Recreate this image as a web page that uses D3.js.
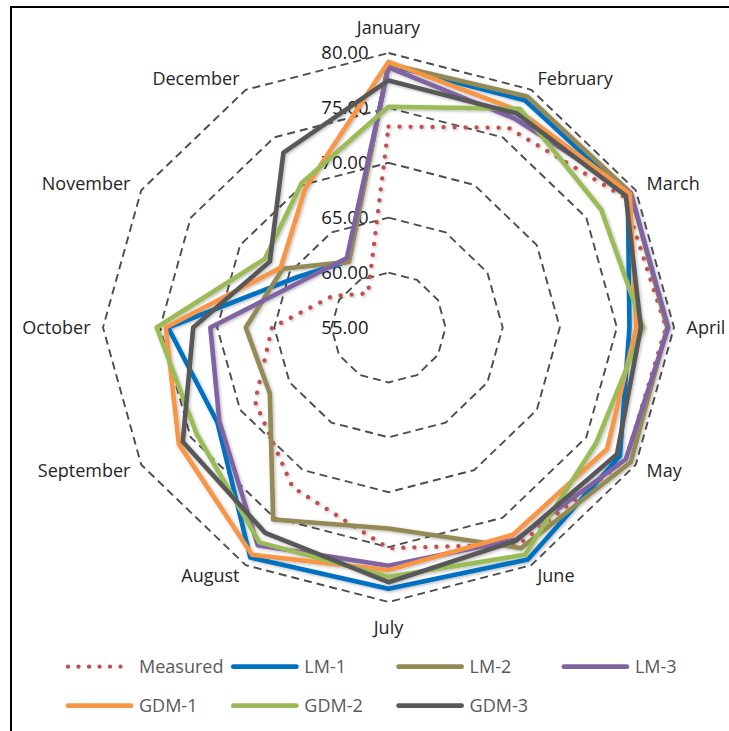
<!DOCTYPE html>
<html>
<head>
<meta charset="utf-8">
<script src="https://cdn.jsdelivr.net/npm/d3@7"></script>
<style>
  html, body { margin: 0; padding: 0; background: #fff; }
  svg { display: block; font-family: "Open Sans", "Segoe UI", sans-serif; }
</style>
</head>
<body>
<svg id="chart" width="729" height="731"></svg>
<script>
// Monthly radar comparison of measured values against six model runs
const months = ["January", "February", "March", "April", "May", "June",
                "July", "August", "September", "October", "November", "December"];

const measured = [73.3, 76.0, 78.8, 79.3, 79.0, 77.8, 75.1, 71.8, 68.5, 65.2, 60.7, 58.6];
const lm1      = [78.9, 78.9, 79.2, 76.1, 78.4, 79.4, 78.8, 79.2, 72.3, 74.3, 64.2, 62.0];
const lm2      = [79.0, 79.3, 79.5, 79.4, 79.5, 78.2, 73.3, 75.2, 67.0, 67.5, 65.7, 61.9];
const lm3      = [78.7, 77.0, 79.5, 79.5, 79.0, 77.3, 76.7, 77.9, 72.1, 70.6, 63.6, 62.3];
const gdm1     = [79.2, 77.8, 79.4, 76.7, 77.1, 76.8, 77.1, 78.9, 76.2, 74.5, 65.9, 69.6];
const gdm2     = [75.1, 78.0, 76.5, 77.3, 76.0, 78.9, 77.7, 77.6, 74.4, 75.3, 67.5, 70.2];
const gdm3     = [77.5, 77.5, 79.0, 77.1, 78.1, 77.4, 78.2, 76.6, 75.8, 72.1, 67.0, 73.4];

const seriesNames = ["Measured", "LM-1", "LM-2", "LM-3", "GDM-1", "GDM-2", "GDM-3"];
const tickValues = [55, 60, 65, 70, 75, 80];

const series = [
  { name: seriesNames[0], values: measured, color: "#C0504D", dotted: true },
  { name: seriesNames[1], values: lm1,      color: "#0070C0" },
  { name: seriesNames[2], values: lm2,      color: "#948A54" },
  { name: seriesNames[3], values: lm3,      color: "#8064A2" },
  { name: seriesNames[4], values: gdm1,     color: "#F79646" },
  { name: seriesNames[5], values: gdm2,     color: "#9BBB59" },
  { name: seriesNames[6], values: gdm3,     color: "#595959" }
];

const svg = d3.select("#chart");

// frame of the chart area
svg.append("rect")
  .attr("x", 11).attr("y", 7).attr("width", 900).attr("height", 900)
  .attr("fill", "none").attr("stroke", "#000").attr("stroke-width", 2);

// soft shadow under the series lines
const defs = svg.append("defs");
const shadow = defs.append("filter").attr("id", "shadow")
  .attr("x", "-10%").attr("y", "-10%").attr("width", "120%").attr("height", "120%");
shadow.append("feDropShadow")
  .attr("dx", 1.2).attr("dy", 1.2).attr("stdDeviation", 1.4)
  .attr("flood-color", "#000").attr("flood-opacity", 0.28);

const cx = 388.5, cy = 327.5;
const R = 274.5;          // vertical radius of the outer ring
const sx = 285.5 / R;     // plot area is slightly wider than tall

const r = d3.scaleLinear().domain([55, 80]).range([0, R]);
const angle = d3.scaleLinear().domain([0, months.length]).range([0, 2 * Math.PI]);

const px = (i, v) => cx + Math.sin(angle(i)) * r(v) * sx;
const py = (i, v) => cy - Math.cos(angle(i)) * r(v);

const ring = d3.line()
  .x(d => px(d.i, d.v))
  .y(d => py(d.i, d.v))
  .curve(d3.curveLinearClosed);

// dashed grid rings
const g = svg.append("g");
g.selectAll("path.grid")
  .data(tickValues.filter(t => t > r.domain()[0]))
  .join("path")
  .attr("class", "grid")
  .attr("d", t => ring(months.map((m, i) => ({ i, v: t }))))
  .attr("fill", "none")
  .attr("stroke", "#4d4d4d")
  .attr("stroke-width", 1.9)
  .attr("stroke-dasharray", "8 5");

// value labels along the first spoke
g.selectAll("text.tick")
  .data(tickValues)
  .join("text")
  .attr("class", "tick")
  .attr("x", cx - 20)
  .attr("y", t => cy - r(t))
  .attr("dy", "0.35em")
  .attr("text-anchor", "end")
  .attr("font-size", 18.5)
  .attr("fill", "#1a1a1a")
  .text(d3.format(".2f"));

// month labels outside the outer ring
const outer = r.domain()[1];
g.selectAll("text.month")
  .data(months)
  .join("text")
  .attr("class", "month")
  .each(function (m, i) {
    const s = Math.sin(angle(i)), c = Math.cos(angle(i));
    const d = 12.5;
    let x = px(i, outer) + d * s;
    let y = py(i, outer) - d * c;
    let anchor = "middle";
    if (Math.abs(s) < 0.1) y -= 13 * Math.sign(c);
    else anchor = s > 0 ? "start" : "end";
    d3.select(this).attr("x", x).attr("y", y).attr("text-anchor", anchor);
  })
  .attr("dy", "0.35em")
  .attr("font-size", 18)
  .attr("fill", "#262626")
  .text(m => m);

// series lines
const lines = svg.append("g").attr("filter", "url(#shadow)");
lines.selectAll("path.series")
  .data(series)
  .join("path")
  .attr("class", "series")
  .attr("d", s => ring(s.values.map((v, i) => ({ i, v }))))
  .attr("fill", "none")
  .attr("stroke", s => s.color)
  .attr("stroke-width", s => s.dotted ? 4.3 : 4.6)
  .attr("stroke-linejoin", "round")
  .attr("stroke-linecap", "round")
  .attr("stroke-dasharray", s => s.dotted ? "0.01 11" : null);

// legend, four entries per row
const legend = svg.append("g");
const colX = d3.scaleLinear().domain([0, 1]).range([68, 233.3]);
const rowY = d3.scaleLinear().domain([0, 1]).range([666.7, 705.7]);
const entry = legend.selectAll("g.entry")
  .data(series)
  .join("g")
  .attr("class", "entry")
  .attr("transform", (s, k) => `translate(${colX(k % 4)},${rowY(Math.floor(k / 4))})`);
entry.append("line")
  .attr("x1", 0).attr("x2", 63).attr("y1", 0).attr("y2", 0)
  .attr("stroke", s => s.color)
  .attr("stroke-width", s => s.dotted ? 4.3 : 4.8)
  .attr("stroke-linecap", "round")
  .attr("stroke-dasharray", s => s.dotted ? "0.01 10.5" : null);
entry.append("text")
  .attr("x", 71).attr("y", 0).attr("dy", "0.35em")
  .attr("font-size", 18)
  .attr("fill", "#595959")
  .text(s => s.name);
</script>
</body>
</html>
